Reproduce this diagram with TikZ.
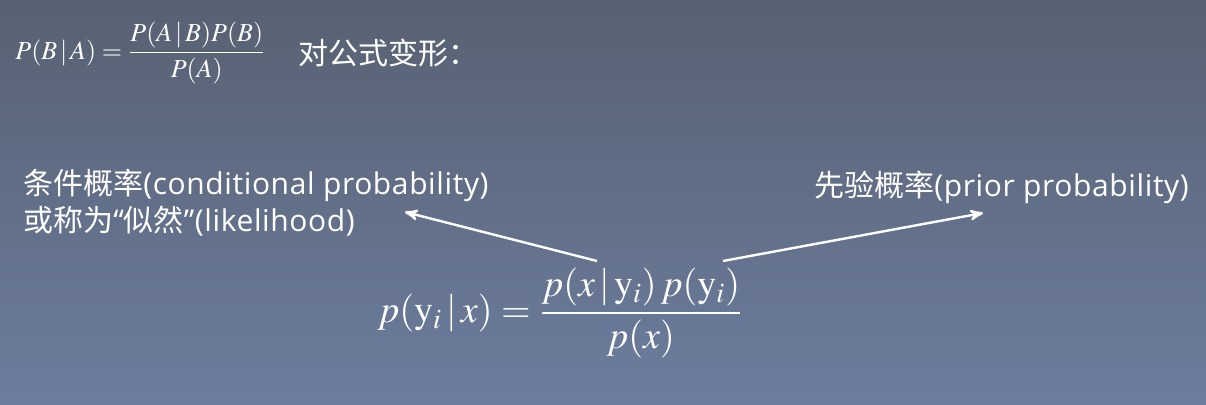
\documentclass[tikz,border=0pt]{standalone}
\usepackage{amsmath}
\usepackage{mathptmx}
\usepackage[no-math]{fontspec}
\newfontfamily\cjk{Noto Sans CJK SC}
\newfontfamily\latin[LetterSpace=2]{Open Sans}
\definecolor{slidetop}{RGB}{88,97,114}
\definecolor{slidebottom}{RGB}{108,125,158}
\usetikzlibrary{arrows, positioning}
\tikzset{
>=stealth', % small sharp arrow heads
every node/.style={text=white, inner sep=0pt}, % white text on the dark slide
note/.style={font=\cjk\fontsize{15pt}{18.5pt}\selectfont, align=left}, % the labels round the formula
formula/.style={font=\fontsize{19pt}{23pt}\selectfont}, % the big formula
pointer/.style={->, white, line width=1.2pt}, % arrows from formula to labels
}

\begin{document}
\begin{tikzpicture}[x=0.5pt, y=-0.5pt]
      \shade[top color=slidetop, bottom color=slidebottom] (0,0) rectangle (1206,405);
      \useasboundingbox (0,0) rectangle (1206,405);

      \node[font=\fontsize{13pt}{15pt}\selectfont, anchor=west] (bayes) at (15,53)
      {$P(B\,|\,A)=\dfrac{P(A\,|\,B)P(B)}{P(A)}$};
      \node[note, right=16pt of bayes.east, anchor=west] (change) {对公式变形：};

      \node[formula] (post) at (560,313)
      {$p(\mathrm{y}_{i}\,|\,x)=\dfrac{p(x\,|\,\mathrm{y}_{i})\,p(\mathrm{y}_{i})}{p(x)}$};

      \node[note, anchor=west] (like) at (23,203)
      {条件概率{\latin(conditional probability)}\\或称为{\latin“}似然{\latin”(likelihood)}};
      \node[note, anchor=west] (prior) at (814,187) {先验概率{\latin(prior probability)}};

      \coordinate (likeTail) at (597,261);
      \coordinate (likeHead) at (405,212);
      \coordinate (priorTail) at (723,261);
      \coordinate (priorHead) at (983,213);

      \draw[pointer] (likeTail) -- (likeHead);
      \draw[pointer] (priorTail) -- (priorHead);
    \end{tikzpicture}
\end{document}
